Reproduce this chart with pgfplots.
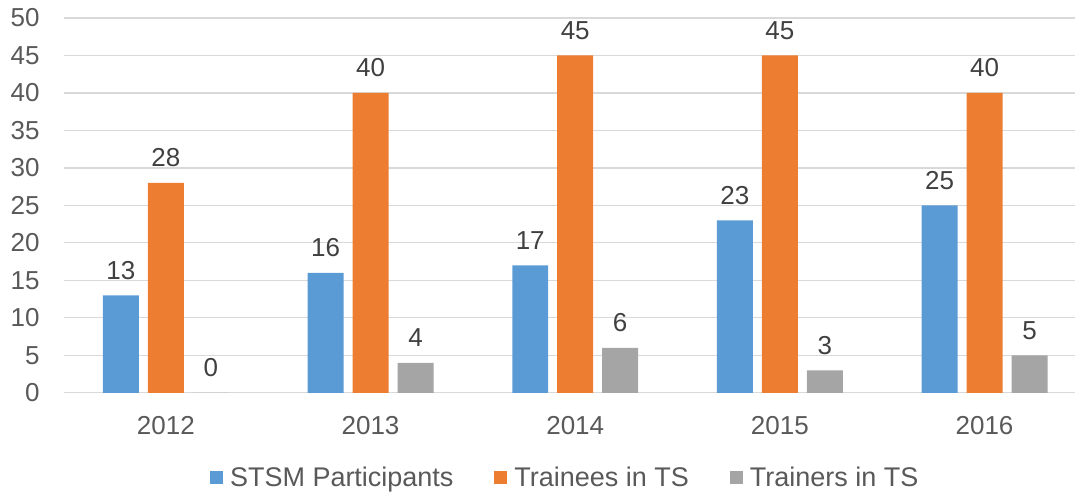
\documentclass[border=0pt]{standalone}
\usepackage{pgfplots}
\pgfplotsset{compat=1.18}
\usepackage{fontspec}
\setmainfont{Liberation Sans}
\usetikzlibrary{calc}
\definecolor{cblue}{HTML}{5B9BD5}
\definecolor{corange}{HTML}{ED7D31}
\definecolor{cgray}{HTML}{A5A5A5}
\definecolor{gridc}{HTML}{D9D9D9}
\definecolor{tickc}{HTML}{595959}
\definecolor{labc}{HTML}{404040}
\begin{document}
\begin{tikzpicture}
\begin{axis}[
  scale only axis,
  width=506.2pt, height=187.5pt,
  ybar=4.5pt, bar width=18pt,
  xmin=-0.5, xmax=4.444,
  ymin=0, ymax=50,
  ytick={0,5,...,50},
  xtick=data,
  xticklabels={2012,2013,2014,2015,2016},
  axis line style={draw=none},
  major tick length=0pt,
  ymajorgrids,
  grid style={gridc, line width=0.6pt},
  font=\fontsize{13}{15}\selectfont,
  /pgf/number format/assume math mode=true,
  ticklabel style={font=\fontsize{13}{15}\selectfont, text=tickc},
  yticklabel style={anchor=east, inner sep=0pt, xshift=-11.8pt},
  xticklabel style={anchor=base, inner sep=0pt, yshift=-20.7pt},
  nodes near coords,
  every node near coord/.append style={anchor=base, inner sep=0pt, yshift=8pt, text=labc, font=\fontsize{13}{15}\selectfont},
  legend columns=3,
  legend style={draw=none, at={(0.4948,-0.2267)}, anchor=center,
    font=\fontsize{13.5}{15}\selectfont, text=tickc,
    column sep=0pt,
    /tikz/every even column/.append style={column sep=20.5pt},
    nodes={inner sep=0pt}},
  legend image code/.code={\fill[#1] (0pt,-3.25pt) rectangle (6.5pt,3.25pt); \path (10pt,0pt);},
]
\addplot[fill=cblue, draw=none] coordinates {(0,13) (1,16) (2,17) (3,23) (4,25)};
\addplot[fill=corange, draw=none] coordinates {(0,28) (1,40) (2,45) (3,45) (4,40)};
\addplot[fill=cgray, draw=none] coordinates {(0,0) (1,4) (2,6) (3,3) (4,5)};
\legend{STSM Participants, Trainees in TS, Trainers in TS}
\end{axis}
\useasboundingbox ($(current axis.south west)+(-31.8pt,-50pt)$) rectangle ($(current axis.north east)+(0pt,9pt)$);
\end{tikzpicture}
\end{document}
